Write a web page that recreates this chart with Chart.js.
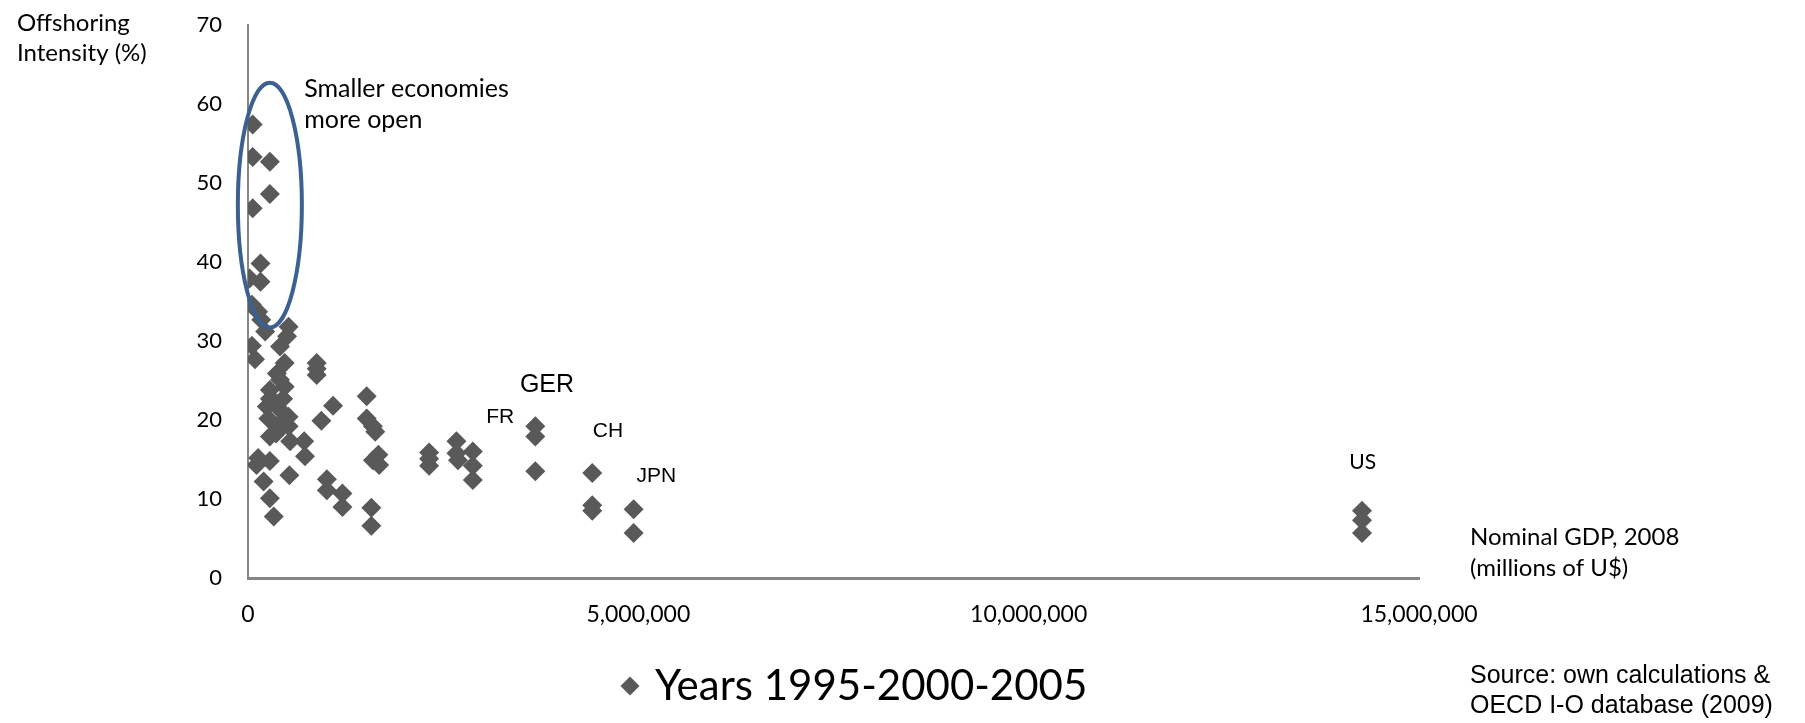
<!DOCTYPE html>
<html>
<head>
<meta charset="utf-8">
<script src="https://cdn.jsdelivr.net/npm/chart.js@4/dist/chart.umd.min.js"></script>
<style>
  html, body { margin: 0; padding: 0; background: #ffffff; }
  #wrap { width: 1805px; height: 723px; position: relative; }
</style>
</head>
<body>
<div id="wrap"><canvas id="c" width="1805" height="723"></canvas></div>
<script>
// Nominal GDP 2008 (millions of US$) of each observation
const gdp = [
  60000, 60000, 60000, 280000, 280000,
  160000, 20000, 160000, 50000, 130000, 170000, 220000,
  520000, 500000, 50000, 410000, 90000, 470000,
  880000, 880000, 880000, 370000, 410000, 280000, 470000,
  280000, 450000, 240000, 410000, 260000, 520000, 370000, 520000,
  280000, 540000, 720000, 730000, 1090000, 940000,
  130000, 280000, 110000, 530000, 200000, 280000, 330000,
  1010000, 1010000, 1210000, 1210000,
  1520000, 1520000, 1600000, 1630000, 1670000, 1600000, 1680000, 1580000, 1580000,
  2320000, 2320000, 2320000,
  2670000, 2670000, 2690000,
  2880000, 2880000, 2880000,
  3680000, 3680000, 3680000,
  4410000, 4410000, 4410000,
  4940000, 4940000,
  14270000, 14270000, 14270000,
  350000, 450000, 360000
];

// Offshoring intensity (%) of each observation
const intensity = [
  57.4, 53.3, 46.8, 52.7, 48.6,
  39.8, 37.9, 37.5, 34.6, 33.7, 32.7, 31.2,
  31.8, 30.6, 29.4, 29.3, 27.7, 27.2,
  27.2, 26.5, 25.7, 25.9, 25.1, 23.8, 24.2,
  22.7, 22.7, 21.7, 21.3, 20.2, 20.4, 19.2, 19.2,
  17.9, 17.3, 17.3, 15.4, 21.8, 19.9,
  15.2, 14.8, 14.3, 13.0, 12.2, 10.1, 7.8,
  12.5, 11.1, 10.7, 9.0,
  23.0, 20.2, 19.2, 18.5, 15.6, 14.9, 14.3, 8.9, 6.6,
  15.9, 15.1, 14.2,
  17.3, 15.8, 14.9,
  16.0, 14.2, 12.4,
  19.2, 17.9, 13.5,
  13.3, 9.2, 8.5,
  8.7, 5.7,
  8.5, 7.3, 5.7,
  22.2, 19.8, 18.3
];

const seriesName = 'Years 1995-2000-2005';
const xTickValues = [0, 5000000, 10000000, 15000000];
const yTickValues = [0, 10, 20, 30, 40, 50, 60, 70];

// Country call-outs (text, anchor GDP, anchor intensity)
const countryNames = ['FR', 'GER', 'CH', 'JPN', 'US'];
const countryGdp = [3230000, 3830000, 4610000, 5230000, 14280000];
const countryY = [20.4, 24.4, 18.6, 12.9, 14.7];

// Ellipse around the small economies, in data units
const ringCenter = [280000, 47.2];
const ringRadius = [410000, 15.5];
const ringNote = ['Smaller economies', 'more open'];
const ringNoteAt = [720000, 61.9, 58.0];

const yTitle = ['Offshoring', 'Intensity (%)'];
const xTitle = ['Nominal GDP, 2008', '(millions of U$)'];
const sourceNote = ['Source: own calculations &', 'OECD I-O database (2009)'];

const MARK = '#595959';
const AXIS = '#868686';

const overlay = {
  id: 'overlay',
  afterDatasetsDraw(chart) {
    const { ctx, scales: { x, y } } = chart;
    ctx.save();
    // ellipse
    const cx = x.getPixelForValue(ringCenter[0]);
    const cy = y.getPixelForValue(ringCenter[1]);
    const rx = x.getPixelForValue(ringCenter[0] + ringRadius[0]) - cx;
    const ry = cy - y.getPixelForValue(ringCenter[1] + ringRadius[1]);
    ctx.beginPath();
    ctx.ellipse(cx, cy, rx, ry, 0, 0, Math.PI * 2);
    ctx.strokeStyle = '#3b6091';
    ctx.lineWidth = 4;
    ctx.stroke();

    ctx.fillStyle = '#000';
    ctx.textBaseline = 'middle';
    ctx.textAlign = 'left';
    ctx.font = '25px Lato';
    const nx = x.getPixelForValue(ringNoteAt[0]);
    ctx.fillText(ringNote[0], nx, y.getPixelForValue(ringNoteAt[1]));
    ctx.fillText(ringNote[1], nx, y.getPixelForValue(ringNoteAt[2]));

    // country call-outs
    ctx.textAlign = 'center';
    countryNames.forEach((n, i) => {
      if (n === 'US') ctx.font = '21px Lato';
      else if (n === 'GER') ctx.font = '25px "Liberation Sans"';
      else ctx.font = '21px "Liberation Sans"';
      ctx.fillText(n, x.getPixelForValue(countryGdp[i]), y.getPixelForValue(countryY[i]));
    });
    ctx.restore();
  },
  afterDraw(chart) {
    const { ctx } = chart;
    ctx.save();
    ctx.fillStyle = '#000';
    ctx.textAlign = 'left';
    ctx.textBaseline = 'alphabetic';
    ctx.font = '24px Lato';
    ctx.fillText(yTitle[0], 17, 31);
    ctx.fillText(yTitle[1], 17, 61);

    ctx.textBaseline = 'middle';
    ctx.font = '24px Lato';
    ctx.fillText(xTitle[0], 1470, 537);
    ctx.fillText(xTitle[1], 1470, 568);

    ctx.font = '25px "Liberation Sans"';
    ctx.fillText(sourceNote[0], 1470, 676);
    ctx.fillText(sourceNote[1], 1470, 706);

    // legend entry
    const ds = chart.data.datasets[0];
    const lx = 630, ly = 686, r = 9.5;
    ctx.fillStyle = ds.backgroundColor;
    ctx.beginPath();
    ctx.moveTo(lx - r, ly);
    ctx.lineTo(lx, ly - r);
    ctx.lineTo(lx + r, ly);
    ctx.lineTo(lx, ly + r);
    ctx.closePath();
    ctx.fill();
    ctx.fillStyle = '#000';
    ctx.font = '42px Lato';
    ctx.fillText(ds.label, 655, ly);
    ctx.restore();
  }
};

function build() {
  new Chart(document.getElementById('c'), {
    type: 'scatter',
    data: {
      datasets: [{
        label: seriesName,
        data: gdp.map((g, i) => ({ x: g, y: intensity[i] })),
        pointStyle: 'rectRot',
        pointRadius: 10,
        pointHoverRadius: 10,
        backgroundColor: MARK,
        borderColor: MARK,
        borderWidth: 0
      }]
    },
    options: {
      responsive: false,
      animation: false,
      devicePixelRatio: 1,
      events: [],
      layout: { padding: { left: 0, right: 386, top: 25, bottom: 0 } },
      plugins: { legend: { display: false }, tooltip: { enabled: false } },
      scales: {
        x: {
          type: 'linear',
          min: 0,
          max: 15000000,
          grid: { display: false, drawTicks: false },
          border: { display: true, color: AXIS, width: 3 },
          ticks: {
            color: '#000',
            font: { family: 'Lato', size: 23 },
            padding: 23,
            maxRotation: 0,
            callback: v => v.toLocaleString('en-US')
          },
          afterBuildTicks: s => { s.ticks = xTickValues.map(v => ({ value: v })); },
          afterFit: s => { s.height = 145; }
        },
        y: {
          type: 'linear',
          min: 0,
          max: 70,
          grid: { display: false, drawTicks: false },
          border: { display: true, color: AXIS, width: 2 },
          ticks: { color: '#000', font: { family: 'Lato', size: 22 }, padding: 26 },
          afterBuildTicks: s => { s.ticks = yTickValues.map(v => ({ value: v })); },
          afterFit: s => {
            s.width = 248;
            // keep the plot top fixed by the layout padding alone
            s.paddingTop = 0;
            s.paddingBottom = 0;
          }
        }
      }
    },
    plugins: [overlay]
  });
}

const fontsReady = document.fonts
  ? Promise.all(['20px Lato', '42px Lato', '22px "Liberation Sans"'].map(f => document.fonts.load(f))).catch(() => {})
  : Promise.resolve();
fontsReady.then(build, build);
</script>
</body>
</html>
